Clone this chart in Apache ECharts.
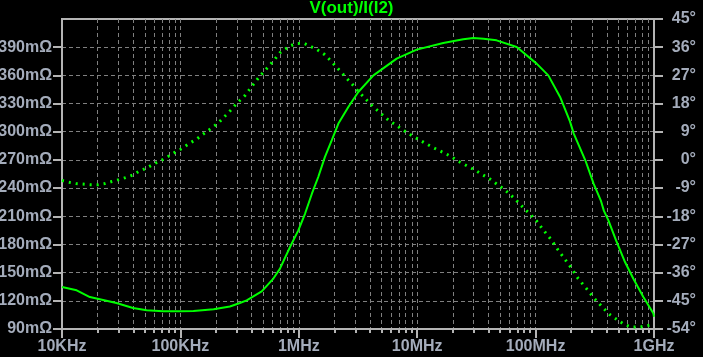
<!DOCTYPE html>
<html>
<head>
<meta charset="utf-8">
<script src="https://cdn.jsdelivr.net/npm/echarts@6/dist/echarts.min.js"></script>
<style>
html,body{margin:0;padding:0;background:#000;}
#chart{width:703px;height:357px;}
</style>
</head>
<body>
<div id="chart"></div>
<script>
// ---- data ----
const titleText = 'V(out)/I(I2)';
const freqTickValues = [1e4, 1e5, 1e6, 1e7, 1e8, 1e9];
const freqTickLabels = ['10KHz', '100KHz', '1MHz', '10MHz', '100MHz', '1GHz'];
const leftTickValues = [90, 120, 150, 180, 210, 240, 270, 300, 330, 360, 390];
const leftTickLabels = ['90mΩ', '120mΩ', '150mΩ', '180mΩ', '210mΩ', '240mΩ', '270mΩ', '300mΩ', '330mΩ', '360mΩ', '390mΩ'];
const rightTickValues = [-54, -45, -36, -27, -18, -9, 0, 9, 18, 27, 36, 45];
const rightTickLabels = ['-54°', '-45°', '-36°', '-27°', '-18°', '-9°', '0°', '9°', '18°', '27°', '36°', '45°'];

// magnitude (solid, left axis, mΩ)
const magFreq = [10000, 13300, 17200, 28800, 39800, 51900, 71300, 100000, 129000, 191000, 262000, 318000, 363000, 486000, 610000, 692000, 843000, 991000,
  1.13e6, 1.29e6, 1.46e6, 1.66e6, 1.90e6, 2.16e6, 2.62e6, 3.18e6, 4.27e6, 6.71e6, 9.91e6, 1.66e7, 2.45e7, 2.98e7, 3.63e7, 4.68e7, 6.92e7,
  1.02e8, 1.28e8, 1.61e8, 1.95e8, 2.10e8, 2.63e8, 3.09e8, 3.55e8, 3.77e8, 4.12e8, 4.79e8, 5.69e8, 6.68e8, 8.13e8, 9.89e8, 1e9];
const magValues = [134.7, 131.2, 124, 117.7, 112.4, 110, 108.8, 108.8, 109.2, 111, 114, 117.7, 120.5, 130, 143.7, 154, 177.3, 195,
  212.9, 234, 251.8, 273, 291, 308.7, 326.3, 342.3, 360, 377.8, 387.4, 394.5, 398.4, 399.8, 399, 397.3, 390.2,
  372.5, 360, 337, 311, 298, 269.6, 244.8, 227, 216, 205.7, 184, 161.3, 143.7, 124, 106.4, 103];

// phase (dotted, right axis, degrees)
const phaseFreq = [10000, 11300, 13100, 17200, 20300, 23100, 26300, 30200, 34500, 39300, 45000, 51900, 60300, 69500, 79100, 89900,
  104000, 118000, 137000, 154000, 181000, 209000, 242000, 266000, 302000, 352000, 398000, 456000, 536000, 610000, 692000, 832000, 955000,
  1.11e6, 1.23e6, 1.43e6, 1.66e6, 1.90e6, 2.11e6, 2.45e6, 2.79e6, 3.18e6, 3.70e6, 4.27e6, 5.01e6, 5.71e6, 6.62e6, 7.64e6, 8.71e6,
  1.0e7, 1.16e7, 1.34e7, 1.56e7, 1.78e7, 2.02e7, 2.29e7, 2.63e7, 3.09e7, 3.51e7, 4.07e7, 4.63e7, 5.35e7, 6.08e7, 6.79e7, 7.76e7, 8.85e7,
  1.02e8, 1.17e8, 1.35e8, 1.52e8, 1.75e8, 2.02e8, 2.29e8, 2.69e8, 3.11e8, 3.61e8, 4.19e8, 4.83e8, 5.58e8, 6.46e8, 7.52e8, 8.67e8, 9.89e8, 1e9];
const phaseValues = [-6.6, -7.1, -7.55, -7.9, -7.9, -7.55, -6.9, -6.3, -5.65, -4.9, -3.55, -2.6, -1.2, -0.1, 1.15, 2.4,
  3.7, 5.2, 6.6, 8.1, 10.0, 11.8, 14.25, 15.85, 18.2, 20.6, 23.3, 26.2, 29.2, 31.6, 34.2, 36.3, 37.2,
  37.2, 36.4, 35.2, 33.6, 31.3, 29.4, 26.7, 24.4, 21.9, 19.3, 16.9, 14.6, 12.7, 11.1, 9.5, 8.1,
  6.8, 5.4, 4.1, 2.85, 1.8, 0.6, -0.66, -1.9, -3.3, -4.6, -6.0, -7.55, -9.2, -11.0, -12.7, -15.0, -17.1,
  -19.5, -22.5, -25.4, -28.3, -31.5, -34.7, -37.9, -41.1, -44.1, -46.75, -49.3, -50.9, -52.5, -53.4, -53.4, -53.0, -52.5, -52.3];

// minor log grid positions (1..9 per decade)
const minorFreqTicks = [];
for (let d = 0; d < freqTickValues.length - 1; d++) {
  for (let k = 1; k <= 9; k++) minorFreqTicks.push(freqTickValues[d] * k);
}
minorFreqTicks.push(freqTickValues[freqTickValues.length - 1]);

// ---- style ----
const frameColor = '#b4b4b4';
const gridColor = '#808080';
const labelColor = '#a4acbb';
const green = '#00ff00';
const font = 'Liberation Sans, Arial, sans-serif';

const chart = echarts.init(document.getElementById('chart'));
chart.setOption({
  animation: false,
  backgroundColor: '#000',
  title: {
    text: titleText,
    left: 'center',
    top: 0,
    padding: 0,
    textStyle: { color: green, fontSize: 17, fontWeight: 'bold', fontFamily: font }
  },
  grid: {
    left: 62, right: 49, top: 19, bottom: 28,
    containLabel: false,
    outerBoundsMode: 'none',
    show: true,
    borderColor: frameColor,
    borderWidth: 2,
    backgroundColor: '#000'
  },
  xAxis: [
    {
      type: 'log', logBase: 10, min: 1e4, max: 1e9, position: 'bottom',
      axisLine: { show: true, onZero: false, lineStyle: { color: frameColor, width: 2 } },
      axisTick: { show: true, length: 9, lineStyle: { color: frameColor, width: 2 }, customValues: freqTickValues },
      axisLabel: {
        show: true, margin: 10, color: labelColor, fontSize: 16, fontWeight: 'bold', fontFamily: font,
        customValues: freqTickValues,
        formatter: function (v) {
          const i = Math.round(Math.log10(v)) - 4;
          return freqTickLabels[i] || '';
        }
      },
      splitLine: { show: false },
      minorTick: { show: false }
    },
    {
      type: 'log', logBase: 10, min: 1e4, max: 1e9, position: 'bottom',
      axisLine: { show: false, onZero: false },
      axisTick: { show: true, length: 4, lineStyle: { color: frameColor, width: 2 }, customValues: minorFreqTicks },
      axisLabel: { show: false },
      splitLine: { show: true, lineStyle: { color: gridColor, width: 1, type: [4, 3] } }
    }
  ],
  yAxis: [
    {
      type: 'value', min: 90, max: 420, interval: 30, position: 'left',
      axisLine: { show: true, onZero: false, lineStyle: { color: frameColor, width: 2 } },
      axisTick: { show: true, length: 9, lineStyle: { color: frameColor, width: 2 }, customValues: leftTickValues },
      axisLabel: {
        margin: 10, color: labelColor, fontSize: 16, fontWeight: 'bold', fontFamily: font,
        customValues: leftTickValues,
        formatter: function (v) { const i = leftTickValues.indexOf(v); return i >= 0 ? leftTickLabels[i] : ''; }
      },
      splitLine: { show: true, lineStyle: { color: gridColor, width: 1, type: [4, 3] } }
    },
    {
      type: 'value', min: -54, max: 45, interval: 9, position: 'right',
      axisLine: { show: true, onZero: false, lineStyle: { color: frameColor, width: 2 } },
      axisTick: { show: true, length: 9, lineStyle: { color: frameColor, width: 2 } },
      axisLabel: {
        margin: 42, align: 'right', color: labelColor, fontSize: 16, fontWeight: 'bold', fontFamily: font,
        formatter: function (v) { const i = rightTickValues.indexOf(Math.round(v)); return i >= 0 ? rightTickLabels[i] : ''; }
      },
      splitLine: { show: false }
    }
  ],
  series: [
    {
      name: 'mag', type: 'line', xAxisIndex: 0, yAxisIndex: 0,
      data: magFreq.map((f, i) => [f, magValues[i]]),
      showSymbol: false, smooth: false,
      lineStyle: { color: green, width: 2 },
      z: 5
    },
    {
      name: 'phase', type: 'line', xAxisIndex: 0, yAxisIndex: 1,
      data: phaseFreq.map((f, i) => [f, phaseValues[i]]),
      showSymbol: false, smooth: false,
      lineStyle: { color: green, width: 3, type: [2, 5] },
      z: 5
    }
  ]
});
</script>
</body>
</html>
